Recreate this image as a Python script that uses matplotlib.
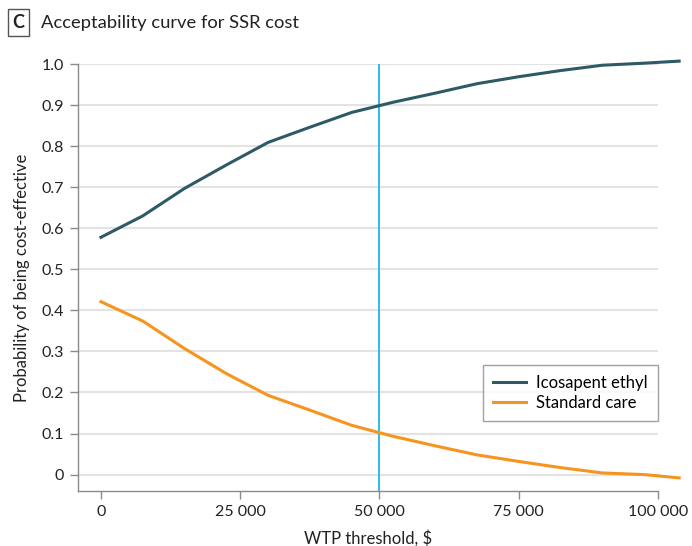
import matplotlib
matplotlib.use("Agg")
import matplotlib.pyplot as plt
from matplotlib.patches import Rectangle
from matplotlib.ticker import FuncFormatter

plt.rcParams['font.family'] = ['Lato', 'DejaVu Sans']

# Willingness-to-pay thresholds, $
wtp = [0, 7500, 15000, 22500, 30000, 37500, 45000, 52500, 60000, 67500,
       75000, 82500, 90000, 97500, 103800]
# Probability of being cost-effective
icosapent_ethyl = [0.578, 0.630, 0.697, 0.754, 0.809, 0.846, 0.882, 0.907, 0.929,
                   0.952, 0.969, 0.984, 0.997, 1.002, 1.007]
standard_care = [0.421, 0.374, 0.307, 0.246, 0.193, 0.157, 0.120, 0.093, 0.070,
                 0.048, 0.032, 0.017, 0.004, 0.000, -0.008]
threshold = 50000

x_ticks = [0, 25000, 50000, 75000, 100000]
y_ticks = [0, 0.1, 0.2, 0.3, 0.4, 0.5, 0.6, 0.7, 0.8, 0.9, 1.0]

col_ethyl = '#2e5a66'
col_std = '#f7941d'
col_thr = '#1ab7ea'
col_axis = '#8a8a8a'
col_grid = '#e3e3e3'

fig = plt.figure(figsize=(6.92, 5.46), dpi=100)
ax = fig.add_axes([78 / 692, 1 - 491 / 546, (658 - 78) / 692, (491 - 64) / 546])

ax.set_xlim(-4120, 100000)
ax.set_ylim(-0.04, 1.0)

for y in y_ticks:
    ax.axhline(y, color=col_grid, lw=1.5, zorder=0)

ax.axvline(threshold, color=col_thr, lw=1.3, zorder=2)
ax.plot(wtp, icosapent_ethyl, color=col_ethyl, lw=2.2, clip_on=False,
        label='Icosapent ethyl', zorder=3, solid_joinstyle='round')
ax.plot(wtp, standard_care, color=col_std, lw=2.2, clip_on=False,
        label='Standard care', zorder=3, solid_joinstyle='round')

for s in ['top', 'right']:
    ax.spines[s].set_visible(False)
for s in ['left', 'bottom']:
    ax.spines[s].set_color(col_axis)
    ax.spines[s].set_linewidth(1.0)

ax.set_xticks(x_ticks)
ax.set_yticks(y_ticks)
ax.xaxis.set_major_formatter(FuncFormatter(
    lambda v, p: f"{int(v):,}".replace(',', ' ') if v else '0'))
ax.yaxis.set_major_formatter(FuncFormatter(
    lambda v, p: '0' if v == 0 else f"{v:.1f}"))
ax.tick_params(axis='both', colors=col_axis, length=6, width=1.0,
               labelsize=11.5, labelcolor='#222222', pad=4)

ax.set_xlabel('WTP threshold, $', fontsize=12, color='#222222', labelpad=8)
ax.set_ylabel('Probability of being cost-effective', fontsize=12,
              color='#222222', labelpad=8)

leg = ax.legend(loc='lower right', bbox_to_anchor=(1.0, 0.165),
                frameon=True, fancybox=False, fontsize=12, handlelength=2.0,
                borderpad=0.6, labelspacing=0.2, handletextpad=0.6,
                borderaxespad=0)
leg.get_frame().set_edgecolor('#8a8a8a')
leg.get_frame().set_linewidth(1.0)

# Panel letter box and title
fig.patches.append(Rectangle((8 / 692, 1 - 36 / 546), 21 / 692, 27 / 546,
                             transform=fig.transFigure, fill=False,
                             edgecolor='#555555', lw=1.0))
fig.text(18.5 / 692, 1 - 23 / 546, 'C', ha='center', va='center',
         fontsize=13, fontweight='bold', color='#222222')
fig.text(41 / 692, 1 - 23 / 546, 'Acceptability curve for SSR cost',
         ha='left', va='center', fontsize=13.2, color='#222222')

fig.savefig('out.png', dpi=100)
